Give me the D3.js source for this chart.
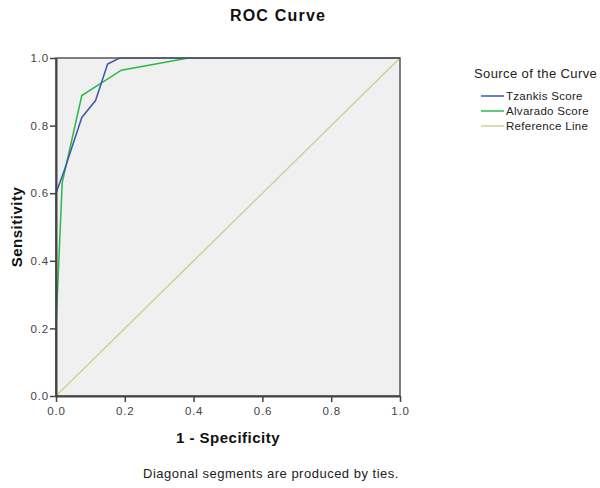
<!DOCTYPE html>
<html>
<head>
<meta charset="utf-8">
<script src="https://cdn.jsdelivr.net/npm/d3@7"></script>
<style>
  body { margin: 0; background: #fff; }
  text { font-family: "Liberation Sans", Arial, sans-serif; }
</style>
</head>
<body>
<svg id="chart" width="600" height="488"></svg>
<script>
// ROC points (1 - specificity, sensitivity)
const tzankisFpr = [0, 0, 0.025, 0.075, 0.115, 0.15, 0.185, 1];
const tzankisTpr = [0, 0.6, 0.67, 0.824, 0.874, 0.982, 1, 1];
const alvaradoFpr = [0, 0, 0.018, 0.075, 0.19, 0.385, 1];
const alvaradoTpr = [0, 0.206, 0.631, 0.889, 0.964, 1, 1];
const referenceFpr = [0, 1];
const referenceTpr = [0, 1];
const tickValues = [0, 0.2, 0.4, 0.6, 0.8, 1.0];
const seriesNames = ["Tzankis Score", "Alvarado Score", "Reference Line"];
const seriesColors = ["#3e58ac", "#2eb848", "#d3ce97"];

const svg = d3.select("#chart");
const margin = { left: 56, top: 58, right: 200, bottom: 92 };
const width = 400 - margin.left;
const height = 396 - margin.top;

const g = svg.append("g").attr("transform", `translate(${margin.left},${margin.top})`);

const x = d3.scaleLinear().domain([0, 1]).range([0, width]);
const y = d3.scaleLinear().domain([0, 1]).range([height, 0]);

// plot background
g.append("rect")
  .attr("width", width)
  .attr("height", height)
  .attr("fill", "#f0f0f0");

// lines
const seriesData = [
  tzankisFpr.map((d, i) => [d, tzankisTpr[i]]),
  alvaradoFpr.map((d, i) => [d, alvaradoTpr[i]]),
  referenceFpr.map((d, i) => [d, referenceTpr[i]])
];

const line = d3.line().x((d) => x(d[0])).y((d) => y(d[1]));

// reference line drawn first, under the curves
[2, 1, 0].forEach((i) => {
  g.append("path")
    .datum(seriesData[i])
    .attr("d", line)
    .attr("fill", "none")
    .attr("stroke", seriesColors[i])
    .attr("stroke-width", 1.5);
});

// frame on top of the curves
g.append("rect")
  .attr("width", width)
  .attr("height", height)
  .attr("fill", "none")
  .attr("stroke", "#555")
  .attr("stroke-width", 1.5);

// axes
const xAxis = g.append("g")
  .attr("transform", `translate(0,${height})`)
  .call(d3.axisBottom(x).tickValues(tickValues).tickFormat(d3.format(".1f")).tickSize(6).tickSizeOuter(0));
const yAxis = g.append("g")
  .call(d3.axisLeft(y).tickValues(tickValues).tickFormat(d3.format(".1f")).tickSize(6).tickSizeOuter(0));

[xAxis, yAxis].forEach((a) => {
  a.select(".domain").attr("stroke", "#444").attr("stroke-width", 2);
  a.selectAll(".tick line").attr("stroke", "#444").attr("stroke-width", 1.5);
  a.selectAll(".tick text")
    .attr("fill", "#444")
    .style("font-size", "11.5px")
    .style("letter-spacing", "0.8px")
    .style("font-family", "Liberation Sans, Arial, sans-serif");
});
xAxis.selectAll(".tick text").attr("dy", "0.9em");
yAxis.selectAll(".tick text").attr("x", -7);

// titles
svg.append("text")
  .attr("x", 278)
  .attr("y", 21)
  .attr("text-anchor", "middle")
  .style("font-size", "16px")
  .style("letter-spacing", "1.2px")
  .style("font-weight", "bold")
  .attr("fill", "#111")
  .text("ROC Curve");

svg.append("text")
  .attr("x", margin.left + width / 2)
  .attr("y", 443)
  .attr("text-anchor", "middle")
  .style("font-size", "15px")
  .style("letter-spacing", "0.5px")
  .style("font-weight", "bold")
  .attr("fill", "#111")
  .text("1 - Specificity");

svg.append("text")
  .attr("transform", `translate(22,${margin.top + height / 2}) rotate(-90)`)
  .attr("text-anchor", "middle")
  .style("font-size", "15px")
  .style("letter-spacing", "0.5px")
  .style("font-weight", "bold")
  .attr("fill", "#111")
  .text("Sensitivity");

svg.append("text")
  .attr("x", 271)
  .attr("y", 478)
  .attr("text-anchor", "middle")
  .style("font-size", "13px")
  .style("letter-spacing", "0.5px")
  .attr("fill", "#222")
  .text("Diagonal segments are produced by ties.");

// legend
const legend = svg.append("g").attr("transform", "translate(474,78)");
legend.append("text")
  .attr("x", 0)
  .attr("y", 0)
  .style("font-size", "13px")
  .style("letter-spacing", "0.4px")
  .attr("fill", "#222")
  .text("Source of the Curve");

seriesNames.forEach((name, i) => {
  const row = legend.append("g").attr("transform", `translate(0,${18 + i * 15})`);
  row.append("line")
    .attr("x1", 7)
    .attr("x2", 30)
    .attr("y1", 0)
    .attr("y2", 0)
    .attr("stroke", seriesColors[i])
    .attr("stroke-width", 1.5);
  row.append("text")
    .attr("x", 32)
    .attr("y", 4)
    .style("font-size", "11.5px")
    .style("letter-spacing", "0.3px")
    .attr("fill", "#222")
    .text(name);
});
</script>
</body>
</html>
